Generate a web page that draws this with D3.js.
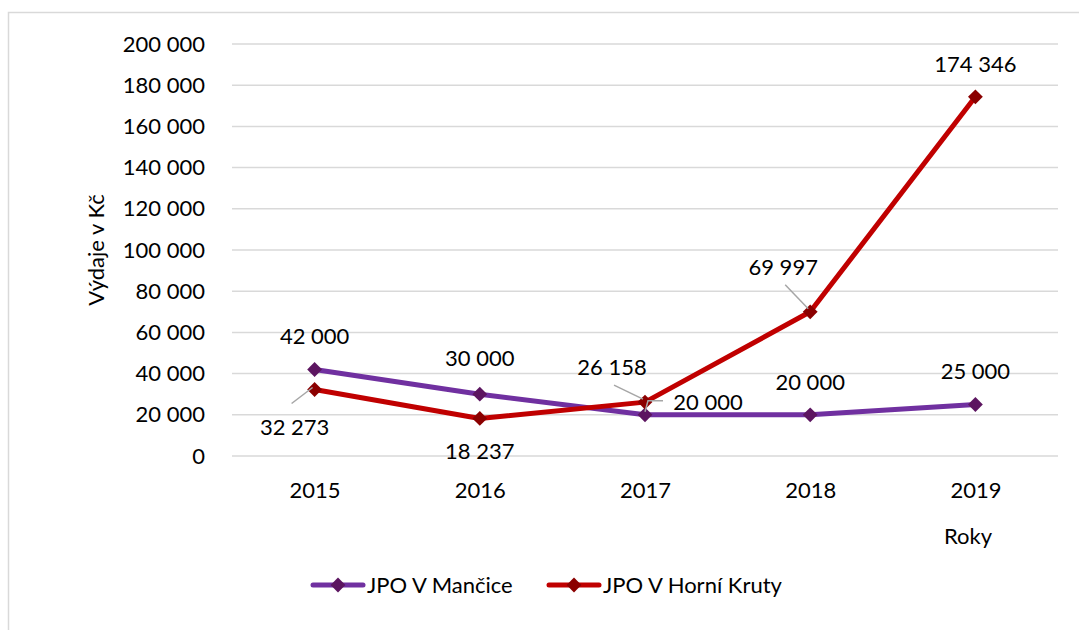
<!DOCTYPE html>
<html>
<head>
<meta charset="utf-8">
<script src="https://cdn.jsdelivr.net/npm/d3@7"></script>
<style>
  html, body { margin: 0; padding: 0; background: #fff; }
  svg { display: block; font-family: Lato, "Open Sans", sans-serif; }
</style>
</head>
<body>
<svg id="chart" width="1079" height="630"></svg>
<script>
// Years on the horizontal axis
const years = ["2015", "2016", "2017", "2018", "2019"];
// Expenses in CZK for each fire unit
const mancice = [42000, 30000, 20000, 20000, 25000];
const horniKruty = [32273, 18237, 26158, 69997, 174346];
// Y axis ticks
const yTicks = [0, 20000, 40000, 60000, 80000, 100000, 120000, 140000, 160000, 180000, 200000];
const seriesNames = ["JPO V Mančice", "JPO V Horní Kruty"];

// Label placement per point: dx/dy offsets of the label centre from the point, optional leader
const labelMancice = [
  { dx: 0, dy: -33 }, { dx: 0, dy: -36 }, { dx: 63, dy: -13, leader: "elbow" },
  { dx: 0, dy: -33 }, { dx: 0, dy: -33 }
];
const labelKruty = [
  { dx: -20, dy: 38, leader: true }, { dx: 0, dy: 33 }, { dx: -33, dy: -35, leader: true },
  { dx: -27, dy: -45, leader: true }, { dx: 0, dy: -33 }
];

const svg = d3.select("#chart");
const W = 1079, H = 630;
const plot = { left: 232, right: 1058, top: 44, bottom: 456 };

const fmt = v => d3.format(",")(v).replace(/,/g, " ");

// frame (left and top edges visible)
svg.append("path")
  .attr("d", `M8.5,${H} V12.5 H${W}`)
  .attr("fill", "none").attr("stroke", "#d9d9d9").attr("stroke-width", 1.5);

const x = d3.scalePoint().domain(years).range([plot.left, plot.right]).padding(0.5);
const y = d3.scaleLinear().domain([0, 200000]).range([plot.bottom, plot.top]);

// gridlines
svg.append("g").selectAll("line").data(yTicks).join("line")
  .attr("x1", plot.left).attr("x2", plot.right)
  .attr("y1", d => y(d)).attr("y2", d => y(d))
  .attr("stroke", "#d9d9d9").attr("stroke-width", 1.5);

// y axis labels
const yAxis = svg.append("g")
  .attr("transform", `translate(${plot.left},0)`)
  .call(d3.axisLeft(y).tickValues(yTicks).tickFormat(fmt).tickSize(0).tickPadding(27));
yAxis.select(".domain").remove();
yAxis.selectAll("text").attr("font-size", 22).attr("fill", "#000")
  .attr("font-family", "Lato, sans-serif");

// x axis labels
const xAxis = svg.append("g")
  .attr("transform", `translate(0,${plot.bottom})`)
  .call(d3.axisBottom(x).tickSize(0).tickPadding(26));
xAxis.select(".domain").remove();
xAxis.selectAll("text").attr("font-size", 22).attr("fill", "#000")
  .attr("font-family", "Lato, sans-serif");

// axis titles
svg.append("text").attr("x", 968).attr("y", 544).attr("text-anchor", "middle")
  .attr("font-size", 22).text("Roky");
svg.append("text")
  .attr("transform", "translate(104,250) rotate(-90)")
  .attr("text-anchor", "middle").attr("font-size", 22).text("Výdaje v Kč");

const line = d3.line().x((d, i) => x(years[i])).y(d => y(d));

function drawSeries(values, color, markerColor) {
  svg.append("path").datum(values)
    .attr("d", line).attr("fill", "none")
    .attr("stroke", color).attr("stroke-width", 5).attr("stroke-linejoin", "round");
  svg.append("g").selectAll("path").data(values).join("path")
    .attr("d", d3.symbol(d3.symbolSquare, 110))
    .attr("transform", (d, i) => `translate(${x(years[i])},${y(d)}) rotate(45)`)
    .attr("fill", markerColor);
}

drawSeries(mancice, "#7030a0", "#5c1560");
drawSeries(horniKruty, "#c00000", "#8b0000");

function drawLabels(values, placement) {
  const g = svg.append("g");
  values.forEach((v, i) => {
    const px = x(years[i]), py = y(v);
    const p = placement[i];
    const lx = px + p.dx, ly = py + p.dy;
    if (p.leader === true) {
      // straight leader from the label's edge to the point
      const sx = p.dy > 0 ? lx - 3 : lx + 2;
      const sy = p.dy > 0 ? ly - 24 : ly + 18;
      g.append("line")
        .attr("x1", sx).attr("y1", sy)
        .attr("x2", px - 2).attr("y2", py - (p.dy > 0 ? 2 : 3))
        .attr("stroke", "#a6a6a6").attr("stroke-width", 1.5);
    } else if (p.leader === "elbow") {
      // bent leader towards a label placed to the right
      g.append("path")
        .attr("d", `M${px},${py - 3} L${px + 3},${py - 14} H${px + 18}`)
        .attr("fill", "none").attr("stroke", "#a6a6a6").attr("stroke-width", 1.5);
    }
    g.append("text").attr("x", lx).attr("y", ly).attr("dy", "0.35em")
      .attr("text-anchor", "middle").attr("font-size", 22).text(fmt(v));
  });
}

drawLabels(mancice, labelMancice);
drawLabels(horniKruty, labelKruty);

// legend
const legend = svg.append("g").attr("transform", "translate(0,585)");
const legendItems = [
  { name: seriesNames[0], color: "#7030a0", marker: "#5c1560", x: 313 },
  { name: seriesNames[1], color: "#c00000", marker: "#8b0000", x: 549 }
];
legendItems.forEach(it => {
  legend.append("line").attr("x1", it.x).attr("x2", it.x + 50)
    .attr("stroke", it.color).attr("stroke-width", 5).attr("stroke-linecap", "round");
  legend.append("path").attr("d", d3.symbol(d3.symbolSquare, 110))
    .attr("transform", `translate(${it.x + 25},0) rotate(45)`).attr("fill", it.marker);
  legend.append("text").attr("x", it.x + 54).attr("y", 0).attr("dy", "0.35em")
    .attr("font-size", 22).text(it.name);
});
</script>
</body>
</html>
